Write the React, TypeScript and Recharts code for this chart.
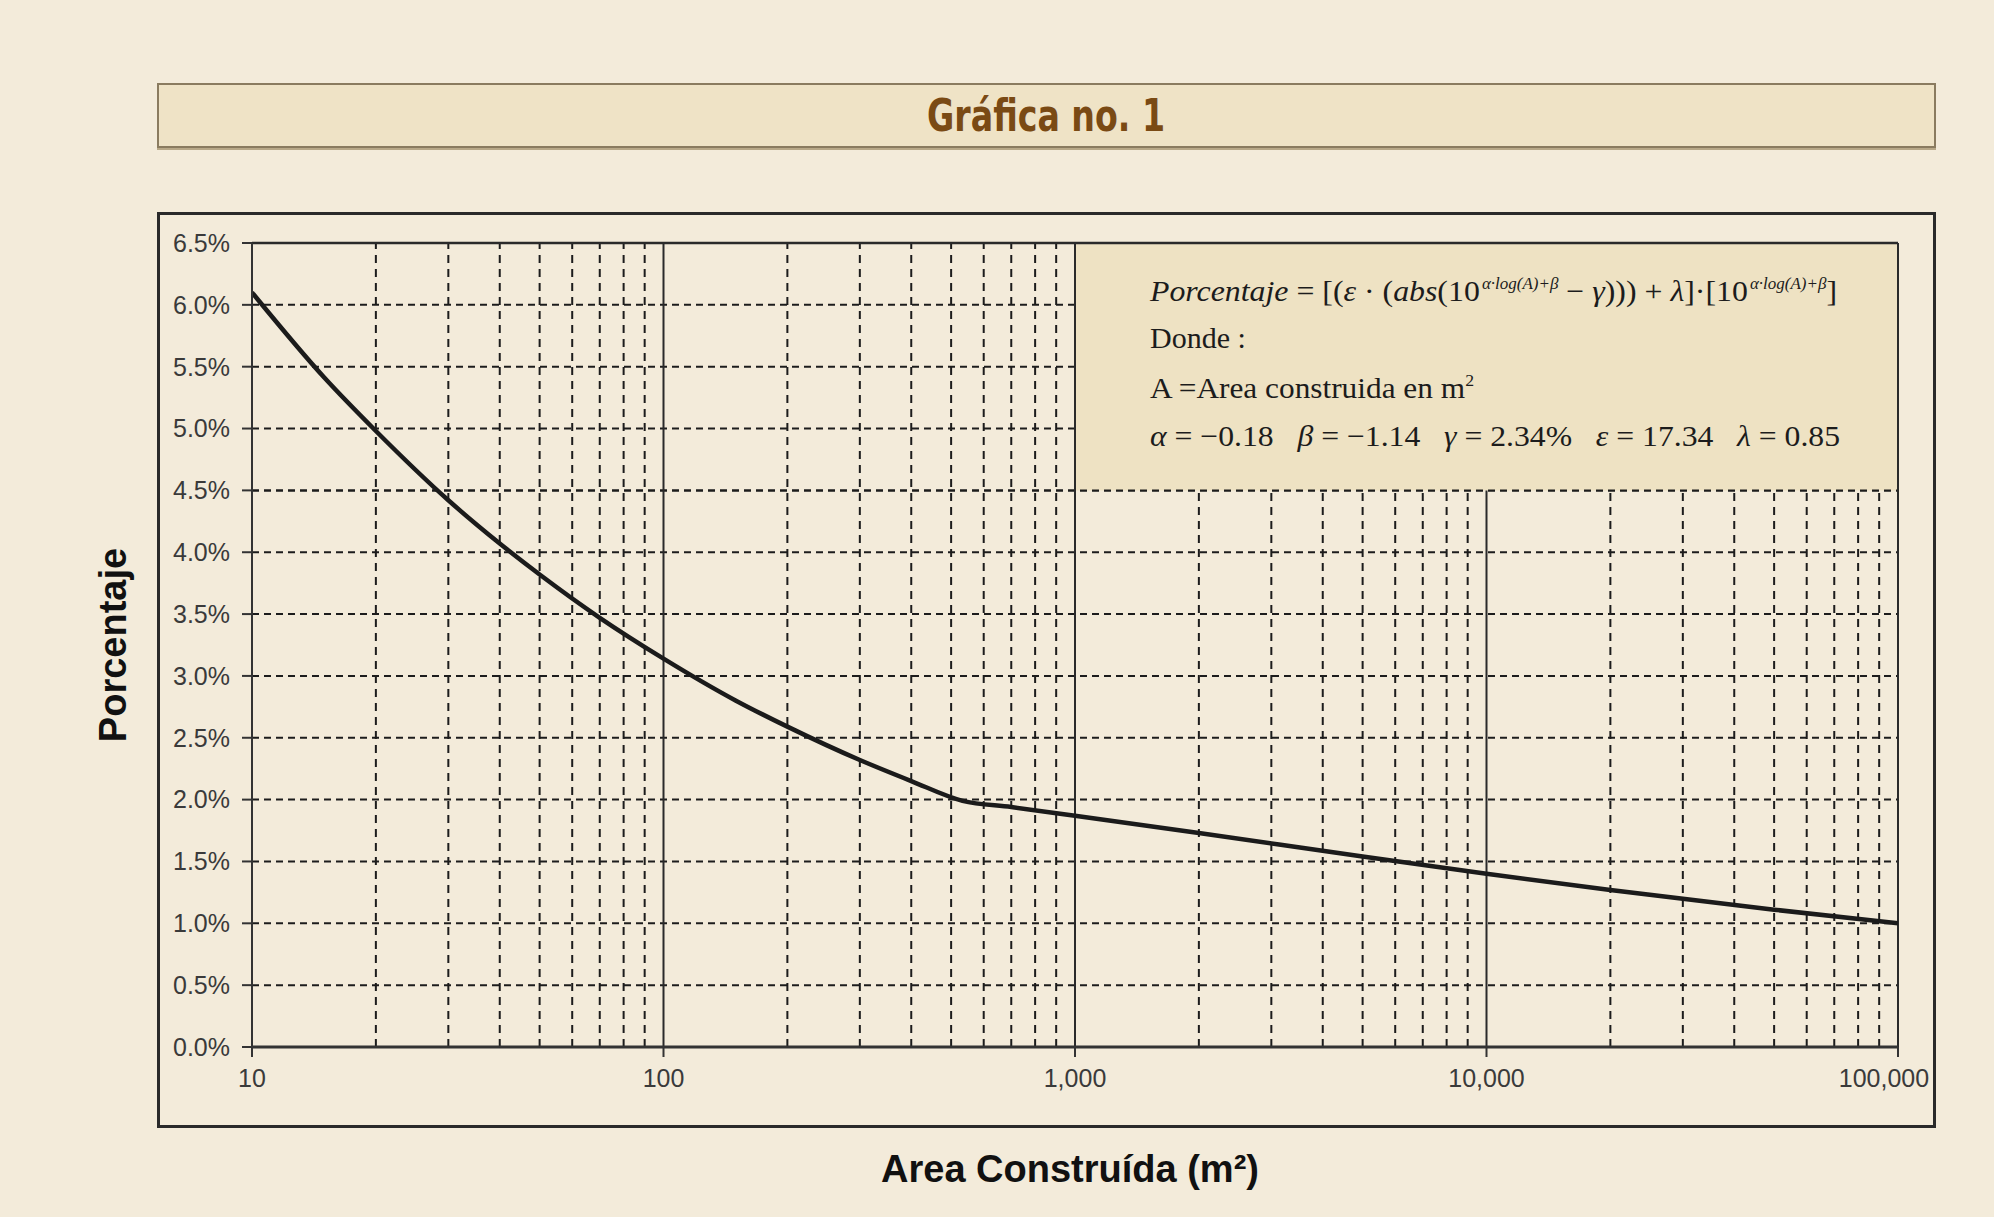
import type { FC } from 'react';
import {
  LineChart,
  Line,
  XAxis,
  YAxis,
  CartesianGrid,
  ReferenceLine,
  ReferenceArea,
} from 'recharts';

// Valores
const areas = [10, 15, 20, 30, 40, 50, 70, 100, 150, 200, 300, 400, 533, 700, 1000, 2000, 5000, 10000, 20000, 50000, 100000];
const porcentajes = [6.1, 5.41, 4.98, 4.42, 4.07, 3.82, 3.47, 3.14, 2.8, 2.59, 2.32, 2.15, 1.99, 1.94, 1.87, 1.73, 1.54, 1.4, 1.27, 1.11, 1.0];

const xTicks = [10, 100, 1000, 10000, 100000];
const xMinor = [
  20, 30, 40, 50, 60, 70, 80, 90,
  200, 300, 400, 500, 600, 700, 800, 900,
  2000, 3000, 4000, 5000, 6000, 7000, 8000, 9000,
  20000, 30000, 40000, 50000, 60000, 70000, 80000, 90000,
];
const xMajorLines = [100, 1000, 100000];
const yTicks = [0, 0.5, 1, 1.5, 2, 2.5, 3, 3.5, 4, 4.5, 5, 5.5, 6, 6.5];

const data = areas.map((a, i) => ({ area: a, pct: porcentajes[i] }));

const BG = '#f3ebda';
const BOX = '#eee2c3';
const INK = '#1c1c1c';
const SERIF = "'Liberation Serif', 'Times New Roman', serif";
const SANS = "'Liberation Sans', Arial, sans-serif";

const XTick = (props: any) => {
  const { x, y, payload } = props;
  const shift = payload.value === 100000 ? -14 : 0;
  return (
    <text x={x + shift} y={y} dy={19} textAnchor="middle" fontFamily={SANS} fontSize={25} fill="#3a3a3a">
      {payload.value.toLocaleString('en-US')}
    </text>
  );
};

const FormulaLabel = (props: any) => {
  const { x, y } = props.viewBox;
  const left = x + 75;
  const sup = { fontSize: 16, fontStyle: 'italic' as const };
  return (
    <g fontFamily={SERIF} fill={INK}>
      <text x={left} y={y + 58} fontSize={30} textLength={687} lengthAdjust="spacingAndGlyphs">
        <tspan fontStyle="italic">Porcentaje</tspan>
        <tspan>{' = [('}</tspan>
        <tspan fontStyle="italic">ε</tspan>
        <tspan>{' · ('}</tspan>
        <tspan fontStyle="italic">abs</tspan>
        <tspan>(10</tspan>
        <tspan dx={2} dy={-12} {...sup}>α·log(A)+β</tspan>
        <tspan dy={12}>{' − '}</tspan>
        <tspan fontStyle="italic">γ</tspan>
        <tspan>{'))) + '}</tspan>
        <tspan fontStyle="italic">λ</tspan>
        <tspan>]·[10</tspan>
        <tspan dx={2} dy={-12} {...sup}>α·log(A)+β</tspan>
        <tspan dy={12}>]</tspan>
      </text>
      <text x={left} y={y + 105} fontSize={30}>Donde :</text>
      <text x={left} y={y + 155} fontSize={30} textLength={324} lengthAdjust="spacingAndGlyphs">
        <tspan>A =Area construida en m</tspan>
        <tspan dy={-12} fontSize={17}>2</tspan>
      </text>
      <text x={left} y={y + 203} fontSize={30} textLength={690} lengthAdjust="spacingAndGlyphs">
        <tspan fontStyle="italic">α</tspan>
        <tspan>{' = −0.18\u00a0\u00a0 '}</tspan>
        <tspan fontStyle="italic">β</tspan>
        <tspan>{' = −1.14\u00a0\u00a0 '}</tspan>
        <tspan fontStyle="italic">γ</tspan>
        <tspan>{' = 2.34%\u00a0\u00a0 '}</tspan>
        <tspan fontStyle="italic">ε</tspan>
        <tspan>{' = 17.34\u00a0\u00a0 '}</tspan>
        <tspan fontStyle="italic">λ</tspan>
        <tspan>{' = 0.85'}</tspan>
      </text>
    </g>
  );
};

const App: FC = () => {
  return (
    <div style={{ position: 'absolute', left: 0, top: 0, width: 1994, height: 1217, background: BG, overflow: 'hidden' }}>
      {/* caja del título */}
      <div
        style={{
          position: 'absolute',
          left: 157,
          top: 83,
          width: 1775,
          height: 61,
          background: '#efe3c6',
          border: '2px solid #8a7b5f',
          boxShadow: '0 2px 0 #b8a887',
          display: 'flex',
          alignItems: 'center',
          justifyContent: 'center',
          fontFamily: "'Liberation Sans Narrow', 'DejaVu Sans Condensed', Arial, sans-serif",
          fontWeight: 'bold',
          fontSize: 45,
          color: '#7a4a14',
        }}
      >
        <span style={{ display: 'inline-block', transform: 'scaleX(0.82)' }}>Gráfica no. 1</span>
      </div>
      {/* marco de la gráfica */}
      <div
        style={{
          position: 'absolute',
          left: 157,
          top: 212,
          width: 1773,
          height: 910,
          border: '3px solid #2a2a2a',
        }}
      />
      <div style={{ position: 'absolute', left: 0, top: 0 }}>
        <LineChart width={1994} height={1217} data={data} margin={{ top: 243, right: 96, bottom: 0, left: 0 }}>
          <CartesianGrid vertical={false} stroke={INK} strokeWidth={2} strokeDasharray="7 5" />
          {xMinor.map((v) => (
            <ReferenceLine key={'m' + v} x={v} stroke={INK} strokeWidth={2} strokeDasharray="8 6" zIndex={50} />
          ))}
          <ReferenceArea x1={1000} x2={100000} y1={4.5} y2={6.5} fill={BOX} fillOpacity={1} stroke="none" zIndex={150} label={FormulaLabel} />
          <ReferenceLine y={4.5} stroke={INK} strokeWidth={2} strokeDasharray="7 5" zIndex={160} />
          {xMajorLines.map((v) => (
            <ReferenceLine key={'M' + v} x={v} stroke="#2a2a2a" strokeWidth={2} zIndex={160} />
          ))}
          {/* la línea de 10,000 se detiene bajo el recuadro de la fórmula */}
          <ReferenceLine
            segment={[{ x: 10000, y: 0 }, { x: 10000, y: 4.5 }]}
            stroke="#2a2a2a"
            strokeWidth={2}
            zIndex={160}
          />
          <ReferenceLine y={6.5} stroke="#2a2a2a" strokeWidth={2.5} zIndex={160} />
          <XAxis
            dataKey="area"
            type="number"
            scale="log"
            domain={[10, 100000]}
            ticks={xTicks}
            allowDataOverflow
            height={170}
            tickSize={10}
            tickMargin={11}
            tick={<XTick />}
            axisLine={{ stroke: '#333', strokeWidth: 3 }}
            tickLine={{ stroke: '#333', strokeWidth: 2 }}
            label={{
              value: 'Area Construída (m²)',
              position: 'insideBottom',
              offset: 35,
              dx: -5,
              style: { fontFamily: SANS, fontWeight: 'bold', fontSize: 38, fill: '#111' },
            }}
          />
          <YAxis
            type="number"
            domain={[0, 6.5]}
            ticks={yTicks}
            width={252}
            tickSize={10}
            tickMargin={12}
            tickFormatter={(v: number) => v.toFixed(1) + '%'}
            tick={{ fontFamily: SANS, fontSize: 25, fill: '#3a3a3a' }}
            axisLine={{ stroke: '#333', strokeWidth: 2 }}
            tickLine={{ stroke: '#333', strokeWidth: 2 }}
            label={{
              value: 'Porcentaje',
              angle: -90,
              position: 'insideLeft',
              offset: 113,
              style: { textAnchor: 'middle', fontFamily: SANS, fontWeight: 'bold', fontSize: 38, fill: '#111' },
            }}
          />
          <Line
            type="monotone"
            dataKey="pct"
            stroke="#1b1b1b"
            strokeWidth={4.5}
            dot={false}
            isAnimationActive={false}
            zIndex={400}
          />
        </LineChart>
      </div>
    </div>
  );
};

export default App;
